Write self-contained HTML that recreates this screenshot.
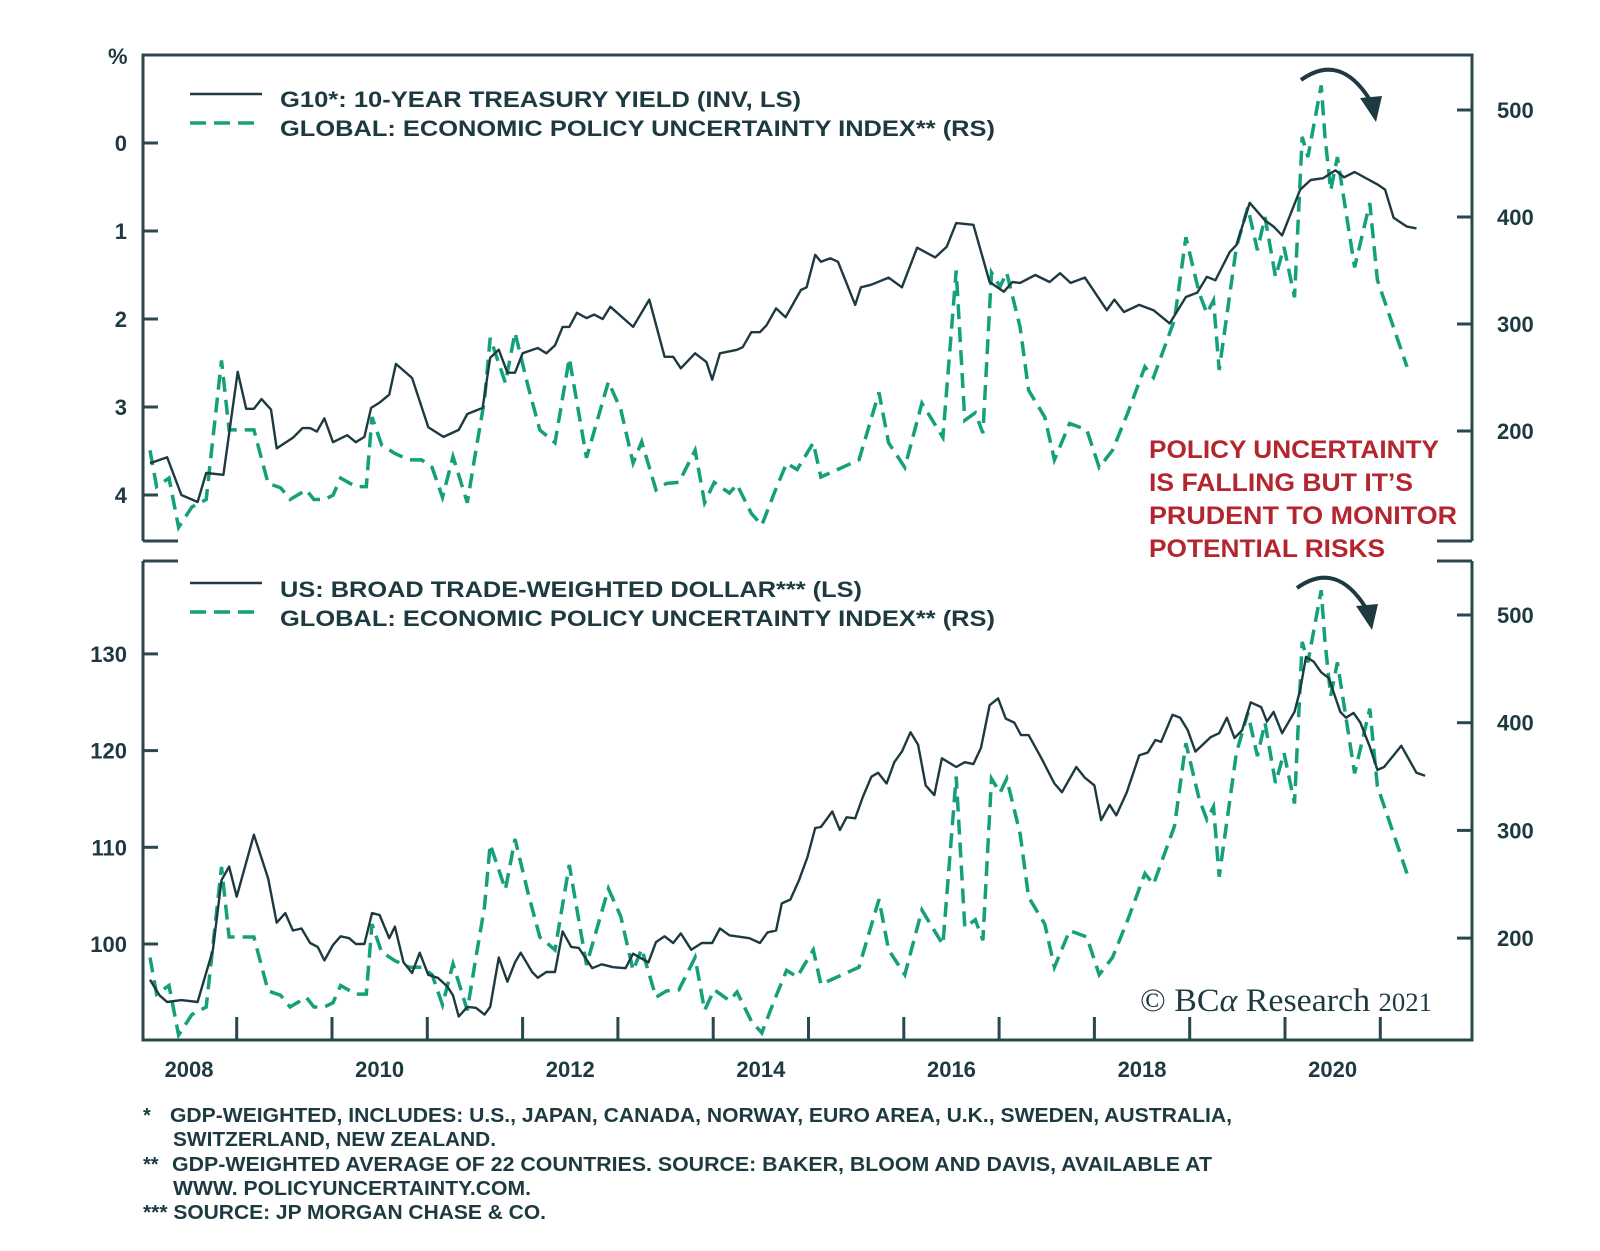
<!DOCTYPE html>
<html><head><meta charset="utf-8"><style>
html,body{margin:0;padding:0;background:#fff;}
svg{display:block;font-family:"Liberation Sans",Arial,sans-serif;}
.lab{font-weight:bold;font-size:22px;fill:#1d3a40;}
.leg{font-weight:bold;font-size:22px;fill:#1d3a40;}
.foot{font-weight:bold;font-size:20px;fill:#1d3a40;}
.red{font-weight:bold;font-size:25px;fill:#b3262f;}
</style></head><body>
<svg id="chart" width="1600" height="1251" viewBox="0 0 1600 1251" xmlns="http://www.w3.org/2000/svg">
<rect width="1600" height="1251" fill="#fff"/>
<g id="frame" stroke="#29474d" stroke-width="3" fill="none">
<path d="M143,541 L143,55 L1472,55 L1472,541"/>
<path d="M143,541 L178,541 M1437,541 L1472,541"/>
<path d="M143,561 L143,1040 L1472,1040 L1472,561"/>
<path d="M143,561 L178,561 M1437,561 L1472,561"/>
</g>
<g id="axes"></g>
<g id="series"></g>
<text class="lab" x="108" y="64">%</text>
<g>
<line x1="190" y1="94" x2="262" y2="94" stroke="#1d3a40" stroke-width="2.5"/>
<line x1="190" y1="123" x2="262" y2="123" stroke="#13a07a" stroke-width="3.5" stroke-dasharray="16,8"/>
<text class="leg" x="280" y="107" textLength="521" lengthAdjust="spacingAndGlyphs">G10*: 10-YEAR TREASURY YIELD (INV, LS)</text>
<text class="leg" x="280" y="136" textLength="715" lengthAdjust="spacingAndGlyphs">GLOBAL: ECONOMIC POLICY UNCERTAINTY INDEX** (RS)</text>
</g>
<g>
<line x1="190" y1="583" x2="262" y2="583" stroke="#1d3a40" stroke-width="2.5"/>
<line x1="190" y1="612" x2="262" y2="612" stroke="#13a07a" stroke-width="3.5" stroke-dasharray="16,8"/>
<text class="leg" x="280" y="597" textLength="582" lengthAdjust="spacingAndGlyphs">US: BROAD TRADE-WEIGHTED DOLLAR*** (LS)</text>
<text class="leg" x="280" y="626" textLength="715" lengthAdjust="spacingAndGlyphs">GLOBAL: ECONOMIC POLICY UNCERTAINTY INDEX** (RS)</text>
</g>
<g>
<text class="red" x="1149" y="458" textLength="290" lengthAdjust="spacingAndGlyphs">POLICY UNCERTAINTY</text>
<text class="red" x="1149" y="491" textLength="264" lengthAdjust="spacingAndGlyphs">IS FALLING BUT IT’S</text>
<text class="red" x="1149" y="524" textLength="308" lengthAdjust="spacingAndGlyphs">PRUDENT TO MONITOR</text>
<text class="red" x="1149" y="557" textLength="236" lengthAdjust="spacingAndGlyphs">POTENTIAL RISKS</text>
</g>
<g fill="none" stroke="#1d3a40" stroke-width="4">
<path d="M1301,80 Q1340,52 1370,100"/>
<polygon points="1360,98 1382,96 1376,122" fill="#1d3a40" stroke="none"/>
</g>
<g fill="none" stroke="#1d3a40" stroke-width="4">
<path d="M1297,588 Q1336,560 1366,608"/>
<polygon points="1356,606 1378,604 1372,630" fill="#1d3a40" stroke="none"/>
</g>
<g>
<text x="1140" y="1011" font-family="'Liberation Serif',serif" font-size="33" fill="#1d3a40" textLength="292" lengthAdjust="spacingAndGlyphs">© BC<tspan font-style="italic">α</tspan> Research <tspan font-size="26">2021</tspan></text>
</g>
<g>
<text class="foot" x="143" y="1122">*</text>
<text class="foot" x="170" y="1122" textLength="1062" lengthAdjust="spacingAndGlyphs">GDP-WEIGHTED, INCLUDES: U.S., JAPAN, CANADA, NORWAY, EURO AREA, U.K., SWEDEN, AUSTRALIA,</text>
<text class="foot" x="173" y="1146" textLength="323" lengthAdjust="spacingAndGlyphs">SWITZERLAND, NEW ZEALAND.</text>
<text class="foot" x="143" y="1171">**</text>
<text class="foot" x="172" y="1171" textLength="1040" lengthAdjust="spacingAndGlyphs">GDP-WEIGHTED AVERAGE OF 22 COUNTRIES. SOURCE: BAKER, BLOOM AND DAVIS, AVAILABLE AT</text>
<text class="foot" x="173" y="1195" textLength="358" lengthAdjust="spacingAndGlyphs">WWW. POLICYUNCERTAINTY.COM.</text>
<text class="foot" x="143" y="1219" textLength="403" lengthAdjust="spacingAndGlyphs">*** SOURCE: JP MORGAN CHASE &amp; CO.</text>
</g>
</svg>
<script>
const yieldYears=[2008.09,2008.27,2008.42,2008.59,2008.68,2008.86,2009.01,2009.10,2009.18,2009.26,2009.36,2009.42,2009.59,2009.69,2009.77,2009.84,2009.92,2010.01,2010.16,2010.25,2010.34,2010.41,2010.50,2010.60,2010.67,2010.84,2011.01,2011.17,2011.33,2011.42,2011.58,2011.66,2011.75,2011.84,2011.92,2012.00,2012.16,2012.25,2012.34,2012.42,2012.49,2012.57,2012.67,2012.75,2012.84,2012.92,2013.16,2013.33,2013.49,2013.58,2013.66,2013.81,2013.93,2013.99,2014.07,2014.25,2014.31,2014.40,2014.49,2014.56,2014.66,2014.76,2014.92,2014.98,2015.07,2015.13,2015.23,2015.31,2015.49,2015.55,2015.66,2015.84,2015.98,2016.14,2016.33,2016.45,2016.55,2016.73,2016.90,2017.05,2017.14,2017.22,2017.38,2017.53,2017.64,2017.75,2017.90,2018.13,2018.21,2018.31,2018.47,2018.62,2018.79,2018.96,2019.08,2019.18,2019.27,2019.42,2019.49,2019.63,2019.79,2019.88,2019.97,2020.16,2020.27,2020.40,2020.53,2020.62,2020.73,2020.97,2021.05,2021.14,2021.28,2021.38];
const yieldVals=[3.64,3.57,4.00,4.08,3.75,3.77,2.60,3.02,3.02,2.91,3.03,3.47,3.35,3.24,3.24,3.28,3.13,3.40,3.32,3.40,3.34,3.01,2.95,2.86,2.51,2.67,3.23,3.34,3.26,3.08,3.01,2.44,2.35,2.61,2.61,2.39,2.33,2.39,2.30,2.09,2.09,1.93,1.99,1.95,2.00,1.86,2.09,1.78,2.43,2.43,2.56,2.39,2.49,2.69,2.39,2.35,2.32,2.15,2.15,2.07,1.88,1.98,1.67,1.64,1.27,1.35,1.31,1.35,1.84,1.64,1.61,1.53,1.64,1.19,1.30,1.18,0.91,0.93,1.58,1.69,1.58,1.59,1.50,1.58,1.48,1.59,1.53,1.90,1.78,1.92,1.84,1.90,2.05,1.75,1.70,1.52,1.56,1.24,1.16,0.68,0.88,0.95,1.05,0.53,0.42,0.40,0.31,0.39,0.33,0.47,0.53,0.85,0.95,0.97];
const epuYears=[2008.09,2008.16,2008.29,2008.39,2008.53,2008.68,2008.84,2008.92,2009.08,2009.18,2009.33,2009.46,2009.56,2009.73,2009.81,2009.92,2010.01,2010.09,2010.25,2010.36,2010.42,2010.52,2010.66,2010.81,2010.94,2011.05,2011.16,2011.27,2011.42,2011.51,2011.60,2011.66,2011.82,2011.92,2012.06,2012.18,2012.34,2012.49,2012.67,2012.90,2013.03,2013.16,2013.25,2013.40,2013.51,2013.64,2013.81,2013.91,2014.01,2014.17,2014.25,2014.40,2014.51,2014.64,2014.77,2014.88,2015.05,2015.13,2015.53,2015.74,2015.84,2016.01,2016.19,2016.41,2016.55,2016.64,2016.75,2016.83,2016.92,2017.01,2017.08,2017.22,2017.31,2017.48,2017.58,2017.74,2017.92,2018.05,2018.19,2018.35,2018.53,2018.62,2018.84,2018.96,2019.10,2019.18,2019.25,2019.31,2019.49,2019.61,2019.71,2019.79,2019.90,2019.99,2020.10,2020.18,2020.24,2020.38,2020.42,2020.48,2020.55,2020.73,2020.89,2020.97,2021.28];
const epuVals=[182,148,156,110,129,136,266,201,201,201,151,147,136,145,136,136,140,156,148,148,213,187,179,173,173,166,138,176,133,182,229,287,245,292,241,201,189,268,175,246,220,170,190,145,151,152,182,133,152,142,150,123,112,142,170,164,189,157,173,236,189,166,226,194,350,210,217,198,348,335,348,297,238,213,173,207,201,166,182,217,260,250,304,381,329,310,322,257,372,409,369,400,344,372,325,475,456,523,475,425,456,353,413,341,260];
const dollarYears=[2008.09,2008.19,2008.27,2008.42,2008.59,2008.75,2008.84,2008.92,2009.00,2009.18,2009.33,2009.42,2009.51,2009.59,2009.68,2009.77,2009.85,2009.92,2010.01,2010.09,2010.18,2010.25,2010.34,2010.42,2010.50,2010.60,2010.66,2010.75,2010.84,2010.92,2011.01,2011.11,2011.21,2011.27,2011.33,2011.42,2011.51,2011.60,2011.66,2011.75,2011.84,2011.92,2011.98,2012.10,2012.16,2012.25,2012.34,2012.42,2012.51,2012.59,2012.73,2012.83,2012.95,2013.08,2013.16,2013.32,2013.40,2013.49,2013.58,2013.66,2013.77,2013.88,2013.99,2014.07,2014.17,2014.38,2014.49,2014.57,2014.66,2014.72,2014.81,2014.90,2014.99,2015.07,2015.13,2015.25,2015.33,2015.40,2015.49,2015.57,2015.66,2015.73,2015.82,2015.90,2015.98,2016.07,2016.15,2016.23,2016.32,2016.40,2016.55,2016.64,2016.73,2016.81,2016.90,2016.99,2017.07,2017.16,2017.23,2017.31,2017.44,2017.58,2017.66,2017.81,2017.90,2018.00,2018.07,2018.16,2018.23,2018.34,2018.47,2018.56,2018.64,2018.70,2018.82,2018.90,2018.98,2019.06,2019.22,2019.31,2019.39,2019.47,2019.55,2019.64,2019.75,2019.81,2019.88,2019.97,2020.10,2020.16,2020.22,2020.30,2020.38,2020.46,2020.58,2020.64,2020.72,2020.79,2020.89,2020.97,2021.04,2021.22,2021.38,2021.47];
const dollarVals=[96.3,94.7,94.0,94.2,94.0,99.4,106.6,108.0,104.9,111.3,106.8,102.2,103.2,101.4,101.6,100.1,99.7,98.3,99.9,100.8,100.6,100.0,100.0,103.2,103.0,100.6,101.8,98.1,97.0,99.1,96.8,96.5,95.6,94.7,92.5,93.5,93.4,92.7,93.5,98.6,96.1,98.1,99.1,97.1,96.5,97.1,97.1,101.3,99.7,99.6,97.5,97.9,97.6,97.5,99.0,98.1,100.2,100.8,100.1,101.1,99.4,100.1,100.1,101.6,100.9,100.6,100.1,101.2,101.4,104.2,104.6,106.6,109.0,112.0,112.1,113.7,111.8,113.1,113.0,115.2,117.3,117.7,116.6,118.8,119.9,121.9,120.6,116.4,115.4,119.2,118.3,118.8,118.6,120.3,124.7,125.4,123.3,122.9,121.6,121.6,119.3,116.6,115.7,118.3,117.2,116.4,112.8,114.4,113.3,115.7,119.5,119.8,121.1,120.9,123.7,123.4,122.1,119.9,121.4,121.8,123.4,121.3,122.1,125.0,124.5,123.0,124.0,121.8,124.0,126.3,129.7,129.2,128.1,127.5,124.0,123.4,123.9,122.9,120.4,118.0,118.3,120.5,117.7,117.4];
const yieldTicks=[0,1,2,3,4];
const dollarTicks=[100,110,120,130];
const epuTicks=[200,300,400,500];
const yearTicks=[2009,2010,2011,2012,2013,2014,2015,2016,2017,2018,2019,2020,2021];
const yearLabels=[2008,2010,2012,2014,2016,2018,2020];

const NS='http://www.w3.org/2000/svg';
const xOf=yr=>236.7+(yr-2009)*95.3;
const yYield=v=>143+v*88;
const yEpuTop=v=>110+(500-v)*1.07;
const yDollar=v=>944-(v-100)*9.67;
const yEpuBot=v=>615+(500-v)*1.077;
const axes=document.getElementById('axes');
const series=document.getElementById('series');
function mk(tag,attrs,parent){const e=document.createElementNS(NS,tag);for(const k in attrs)e.setAttribute(k,attrs[k]);parent.appendChild(e);return e;}
function txt(s,x,y,anchor,parent){const t=mk('text',{x:x,y:y,'text-anchor':anchor,'class':'lab'},parent);t.textContent=s;return t;}

yieldTicks.forEach(v=>{const y=yYield(v);
  const l=mk('line',{x1:143,x2:158,y1:y,y2:y,stroke:'#29474d','stroke-width':3},axes);
  
  
  const t=txt(String(v),127,y+8,'end',axes);
  
  });
epuTicks.forEach(v=>{let y=yEpuTop(v);
  let l=mk('line',{x1:1457,x2:1472,y1:y,y2:y,stroke:'#29474d','stroke-width':3},axes);
  
  
  let t=txt(String(v),1497,y+8,'start',axes);
  
  
  y=yEpuBot(v);
  l=mk('line',{x1:1457,x2:1472,y1:y,y2:y,stroke:'#29474d','stroke-width':3},axes);
  
  
  t=txt(String(v),1497,y+8,'start',axes);
  
  });
dollarTicks.forEach(v=>{const y=yDollar(v);
  const l=mk('line',{x1:143,x2:158,y1:y,y2:y,stroke:'#29474d','stroke-width':3},axes);
  
  
  const t=txt(String(v),127,y+8,'end',axes);
  
  });
yearTicks.forEach(yr=>{const x=xOf(yr);
  const l=mk('line',{x1:x,x2:x,y1:1017,y2:1040,stroke:'#29474d','stroke-width':3},axes);
  
  });
yearLabels.forEach(yr=>{const t=txt(String(yr),xOf(yr+0.5),1077,'middle',axes);
  
  });

function pathD(xs,vs,fy){return xs.map((x,i)=>(i?'L':'M')+xOf(x).toFixed(1)+','+fy(vs[i]).toFixed(1)).join(' ');}
const epuTop=mk('path',{d:pathD(epuYears,epuVals,yEpuTop),fill:'none',stroke:'#13a07a','stroke-width':3.5,'stroke-dasharray':'15,8'},series);


const yl=mk('path',{d:pathD(yieldYears,yieldVals,yYield),fill:'none',stroke:'#1d3a40','stroke-width':2.4,'stroke-linejoin':'round'},series);


const epuBot=mk('path',{d:pathD(epuYears,epuVals,yEpuBot),fill:'none',stroke:'#13a07a','stroke-width':3.5,'stroke-dasharray':'15,8'},series);


const dl=mk('path',{d:pathD(dollarYears,dollarVals,yDollar),fill:'none',stroke:'#1d3a40','stroke-width':2.4,'stroke-linejoin':'round'},series);


</script>
</body></html>
